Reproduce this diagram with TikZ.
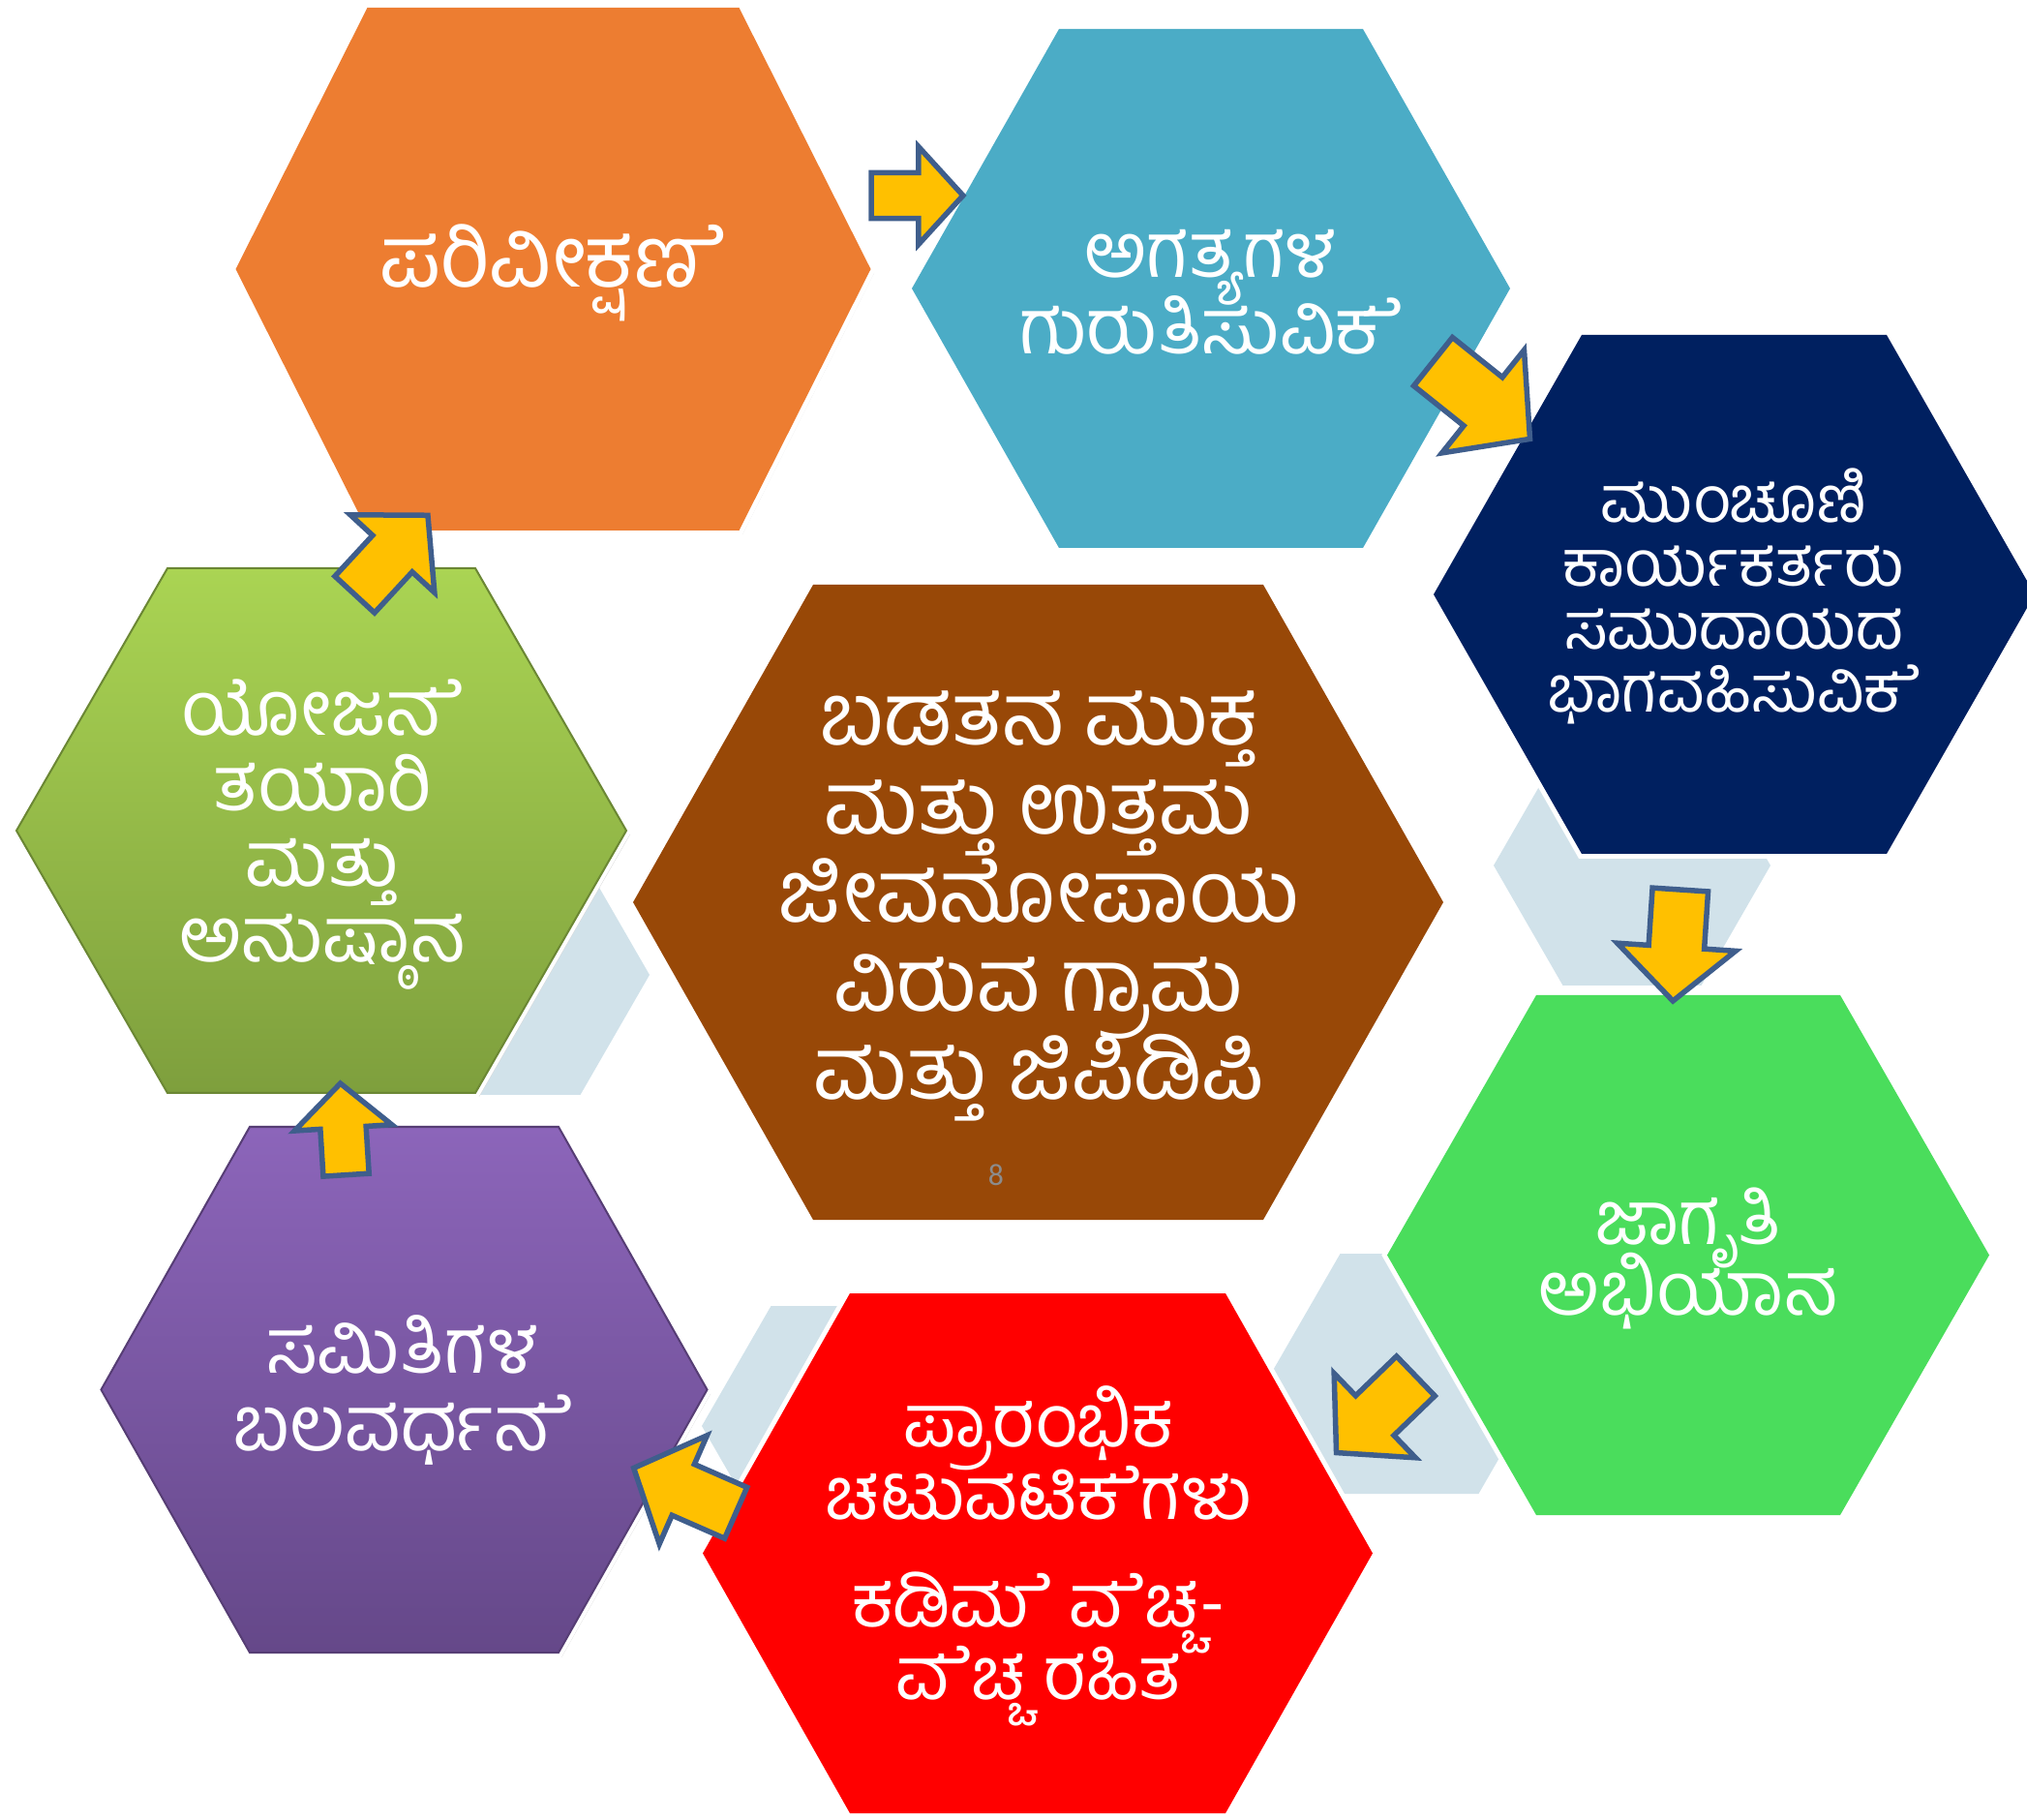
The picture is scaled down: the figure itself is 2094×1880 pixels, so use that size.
\documentclass[tikz,border=0pt]{standalone}
\usepackage{fontspec}
\newfontfamily\kannada[Script=Kannada]{Hind Mysuru}
\newfontfamily\numfont{Carlito}

\definecolor{obsorange}{HTML}{ED7D31}
\definecolor{needblue}{HTML}{4BACC6}
\definecolor{frontnavy}{HTML}{002060}
\definecolor{awaregreen}{HTML}{4ADD5C}
\definecolor{initred}{HTML}{FF0000}
\definecolor{goalbrown}{HTML}{984807}
\definecolor{commtop}{HTML}{8C65BA}
\definecolor{commbot}{HTML}{654889}
\definecolor{plantop}{HTML}{AAD453}
\definecolor{planbot}{HTML}{7E9F3D}
\definecolor{backhex}{HTML}{D1E2EA}
\definecolor{arrowfill}{HTML}{FFC000}
\definecolor{arrowline}{HTML}{3F5E8C}

% flat-topped hexagon: style, cx, cy, half width, half top edge, half height
\newcommand{\hexa}[6]{\path[#1] (#2-#4,#3) -- (#2-#5,#3-#6) -- (#2+#5,#3-#6) -- (#2+#4,#3) -- (#2+#5,#3+#6) -- (#2-#5,#3+#6) -- cycle;}
% vowel sign e, set as the font's own glyph (shaping drops it)
\newcommand{\ematra}{\XeTeXglyph354\relax}

\tikzset{
  hexbase/.style={preaction={draw=white,line width=0.1cm}},
  arrowstyle/.style={fill=arrowfill,draw=arrowline,line width=0.055cm,line join=miter},
  cyclearrow/.pic={\path[arrowstyle] (-64,-32) -- (2,-32) -- (2,-68) -- (64,0) -- (2,68) -- (2,32) -- (-64,32) -- cycle;},
  kntext/.style 2 args={text=white,align=center,inner sep=0pt,font={\kannada\fontsize{#1}{#2}\selectfont\lineskiplimit=-100pt}},
}

\begin{document}
\begin{tikzpicture}[x=0.01cm,y=-0.01cm]
\useasboundingbox (0,0) rectangle (2094,1880);

% small pale hexagons behind
\hexa{fill=backhex}{528}{1007}{143}{71.5}{124}
\hexa{fill=backhex}{1686}{894}{143}{71.5}{124}
\hexa{fill=backhex}{1456}{1419}{143}{71.5}{124}
\hexa{fill=backhex}{868}{1473}{143}{71.5}{124}

% cycle hexagons
\hexa{fill=black!15}{575}{282}{328}{192}{270}
\hexa{hexbase,fill=obsorange}{571.5}{278}{328}{192}{270}
\hexa{hexbase,fill=needblue}{1251}{298}{309}{157}{268}
\hexa{hexbase,fill=frontnavy}{1791.5}{614}{310.5}{157.5}{268}
\hexa{hexbase,fill=awaregreen}{1744}{1296.5}{311}{157}{268.5}
\hexa{hexbase,fill=initred}{1072}{1604.5}{346}{194}{268.5}
\hexa{fill=black!15}{421}{1440}{313}{159.5}{271.5}
\hexa{hexbase,top color=commtop,bottom color=commbot,draw=commbot!85!black,line width=0.02cm}{417.5}{1435.5}{313}{159.5}{271.5}
\hexa{fill=black!15}{336}{862}{315}{159}{271}
\hexa{hexbase,top color=plantop,bottom color=planbot,draw=planbot!85!black,line width=0.02cm}{332}{858}{315}{159}{271}
\hexa{hexbase,fill=goalbrown}{1072.5}{932}{418.5}{232.5}{328}

% arrows between the steps
\pic[scale=0.74] at (947.5,202) {cyclearrow};
\pic[rotate=-38.6] at (1530.5,413.5) {cyclearrow};
\pic[rotate=-93.8,scale=0.9] at (1732,976.5) {cyclearrow};
\pic[rotate=-136,scale=0.89] at (1421.5,1461) {cyclearrow};
\pic[rotate=156.3,scale=0.9] at (707.4,1539.6) {cyclearrow};
\pic[rotate=93.6,scale=0.74] at (354.6,1166.4) {cyclearrow};
\pic[rotate=47.3,scale=0.87] at (404.2,573.2) {cyclearrow};

% labels
\node[kntext={25}{26}] (obs) at (571,282) {ಪರಿವೀಕ್ಷಣ\ematra};
\node[kntext={22.5}{22.5}] (needs) at (1251,301.5) {ಅಗತ್ಯಗಳ\\ಗುರುತಿಸುವಿಕ\ematra};
\node[kntext={19}{18.5}] (front) at (1791,616) {ಮುಂಚೂಣಿ\\ಕಾರ್ಯಕರ್ತರು\\ಸಮುದಾಯದ\\ಭಾಗವಹಿಸುವಿಕ\ematra};
\node[kntext={22}{20.8}] (aware) at (1744,1300) {ಜಾಗೃತಿ\\ಅಭಿಯಾನ};
\node[kntext={21.5}{21.3}] (init) at (1073,1607.5) {ಪ್ರಾರಂಭಿಕ\\ಚಟುವಟಿಕ\ematra ಗಳು\\[0.36cm]ಕಡಿಮ\ematra{} ವ\ematra ಚ್ಚ-\\ವ\ematra ಚ್ಚ ರಹಿತ};
\node[kntext={22.5}{22.8}] (comm) at (416,1436) {ಸಮಿತಿಗಳ\\ಬಲವರ್ಧನ\ematra};
\node[kntext={22.5}{22.2}] (plan) at (333,862) {ಯೋಜನ\ematra\\ತಯಾರಿ\\ಮತ್ತು\\ಅನುಷ್ಠಾನ};
\node[kntext={25.5}{26}] (goal) at (1073,936) {ಬಡತನ ಮುಕ್ತ\\ಮತ್ತು ಉತ್ತಮ\\ಜೀವನೋಪಾಯ\\ವಿರುವ ಗ್ರಾಮ\\ಮತ್ತು ಜಿಪಿಡಿಪಿ};
\node[text=black!45,inner sep=0pt,font=\numfont\fontsize{9}{10}\selectfont] (pagenum) at (1029,1214) {8};
\end{tikzpicture}
\end{document}
